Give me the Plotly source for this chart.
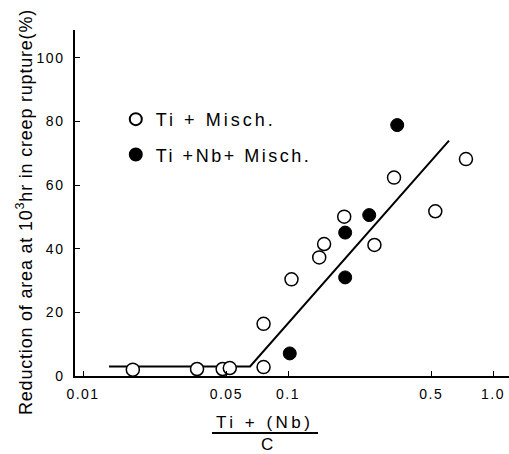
import plotly.graph_objects as go

# Open circles: Ti + Misch.
ti_x = [0.0175, 0.036, 0.048, 0.052, 0.076, 0.076, 0.104, 0.142, 0.150, 0.188, 0.264, 0.329, 0.523, 0.738]
ti_y = [2.0, 2.2, 2.2, 2.5, 16.4, 2.8, 30.4, 37.3, 41.5, 50.1, 41.2, 62.4, 51.8, 68.2]

# Filled circles: Ti + Nb + Misch.
nb_x = [0.102, 0.190, 0.190, 0.249, 0.341]
nb_y = [7.1, 31.0, 45.1, 50.6, 78.9]

# Trend line (horizontal part then rising line)
fit_x = [0.0134, 0.0653, 0.610]
fit_y = [3.0, 3.0, 74.0]

x_ticks = [0.01, 0.05, 0.1, 0.5, 1.0]
x_tick_text = ["0.01", "0.05", "0.1", "0.5", "1.0"]
y_ticks = [0, 20, 40, 60, 80, 100]
y_tick_text = ["0", "20", "40", "60", "80", "100"]

FONT = "Liberation Sans, Arial, sans-serif"


def spaced(t, px):
    return '<span style="letter-spacing:%spx">%s</span>' % (px, t)


fig = go.Figure()
fig.add_trace(go.Scatter(x=fit_x, y=fit_y, mode="lines",
                         line=dict(color="black", width=2), showlegend=False,
                         hoverinfo="skip"))
fig.add_trace(go.Scatter(x=ti_x, y=ti_y, mode="markers",
                         name=spaced("Ti + Misch.", 3),
                         legendgroup="a",
                         marker=dict(symbol="circle", size=13, color="white",
                                     line=dict(color="black", width=1.5))))
fig.add_trace(go.Scatter(x=nb_x, y=nb_y, mode="markers",
                         name=spaced("Ti +Nb+ Misch.", 2.5),
                         legendgroup="b",
                         marker=dict(symbol="circle", size=13, color="black",
                                     line=dict(color="black", width=1))))

fig.update_layout(
    width=509, height=454,
    margin=dict(l=75, r=0, t=30, b=78),
    paper_bgcolor="white", plot_bgcolor="white",
    font=dict(family=FONT, color="black", size=14),
    legend=dict(x=0.094, y=0.795, xanchor="left", yanchor="top",
                bgcolor="rgba(0,0,0,0)", tracegroupgap=9,
                font=dict(size=18, family=FONT), itemsizing="constant"),
    xaxis=dict(type="log", range=[-2.039, 0.078], tickvals=x_ticks,
               ticktext=[spaced(t, 1.5) for t in x_tick_text],
               ticks="inside", ticklen=5,
               tickcolor="black", showline=True, linecolor="black",
               linewidth=1.5, showgrid=False, zeroline=False,
               ticklabelstandoff=4, tickfont=dict(size=14)),
    yaxis=dict(range=[0, 108.8], tickvals=y_ticks,
               ticktext=[spaced(t, 1.5) for t in y_tick_text],
               ticks="inside", ticklen=5, tickcolor="black", showline=True,
               linecolor="black", linewidth=1.5, showgrid=False,
               zeroline=False, ticklabelstandoff=6, tickfont=dict(size=14)),
)

# y-axis title
fig.add_annotation(text=spaced("Reduction of area at 10<sup>3</sup>hr in creep rupture(%)", 0.8),
                   xref="paper", yref="paper", x=-0.1152, y=0.474,
                   xanchor="center", yanchor="middle",
                   textangle=-90, showarrow=False,
                   font=dict(size=18, family=FONT))
# x-axis title as a fraction
fig.add_annotation(text=spaced("Ti + (Nb)", 3.5), xref="paper", yref="paper",
                   x=0.4355, y=-0.1358, xanchor="center", yanchor="middle",
                   showarrow=False, font=dict(size=17, family=FONT))
fig.add_annotation(text="C", xref="paper", yref="paper",
                   x=0.4424, y=-0.1994, xanchor="center", yanchor="middle",
                   showarrow=False, font=dict(size=17, family=FONT))
fig.add_shape(type="line", xref="paper", yref="paper",
              x0=0.3157, x1=0.5599, y0=-0.1647, y1=-0.1647,
              line=dict(color="black", width=2))

# remove the browser's default 8px body margin so the figure fills the window
fig.write_html("out.html",
               config={"displayModeBar": False},
               post_script="document.body.style.margin='0';"
                           "document.body.style.overflow='hidden';")
